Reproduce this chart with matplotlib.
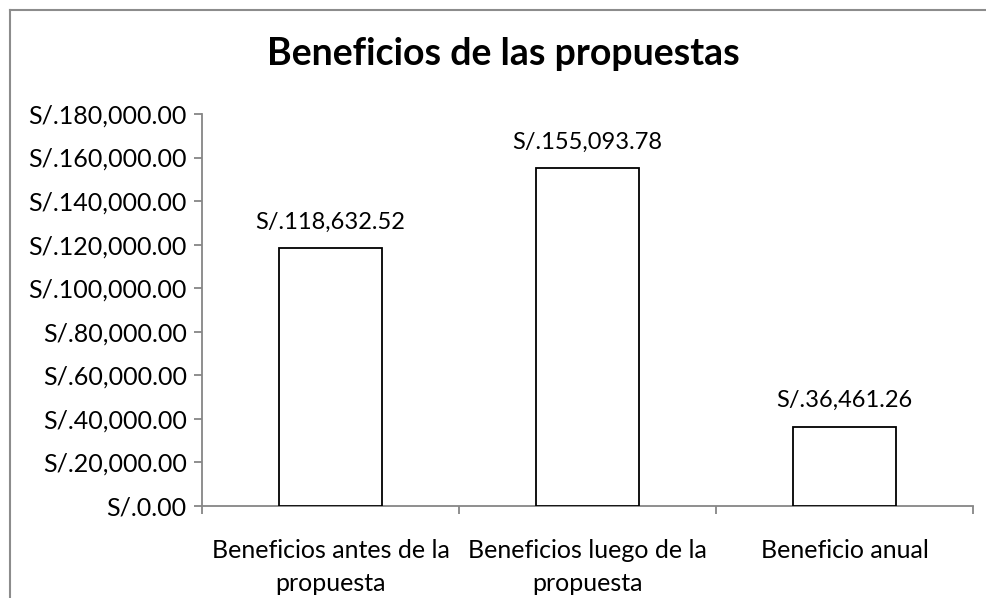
import matplotlib
matplotlib.use("Agg")
import matplotlib.pyplot as plt
from matplotlib.lines import Line2D
from matplotlib.ticker import FuncFormatter, MultipleLocator

categories = ["Beneficios antes de la\npropuesta", "Beneficios luego de la\npropuesta", "Beneficio anual"]
values = [118632.52, 155093.78, 36461.26]
title = "Beneficios de las propuestas"

plt.rcParams['font.family'] = ['Lato', 'DejaVu Sans']

W, H = 987, 598
fig = plt.figure(figsize=(W / 100, H / 100), dpi=100)
ax = fig.add_axes([202 / W, 1 - 506 / H, (973 - 202) / W, (506 - 114) / H])

def money(v):
    return "S/." + f"{v:,.2f}"

x = list(range(len(categories)))
ax.bar(x, values, width=0.4, color="white", edgecolor="black", linewidth=1.3, zorder=3)
for xi, v in zip(x, values):
    ax.annotate(money(v), (xi, v), xytext=(0, 11), textcoords="offset points",
                ha="center", va="bottom", fontsize=17, color="black")

ax.set_xlim(-0.5, len(categories) - 0.5)
ax.set_ylim(0, 180000)
ax.yaxis.set_major_locator(MultipleLocator(20000))
ax.yaxis.set_major_formatter(FuncFormatter(lambda v, p: money(v)))
ax.set_xticks(x)
ax.set_xticklabels(categories, fontsize=18, linespacing=1.5)
ax.set_xticks([-0.5, 0.5, 1.5, 2.5], minor=True)
ax.tick_params(axis="x", which="major", length=0, pad=24)
ax.tick_params(axis="x", which="minor", length=6, width=1.3, color="#868686", direction="out")
ax.tick_params(axis="y", length=6, width=1.3, color="#868686", direction="out", labelsize=18, pad=5)

for s in ["top", "right"]:
    ax.spines[s].set_visible(False)
for s in ["left", "bottom"]:
    ax.spines[s].set_color("#868686")
    ax.spines[s].set_linewidth(1.3)

fig.text(503 / W, 1 - 54 / H, title, ha="center", va="center", fontsize=27, fontweight="bold")

# outer chart-area border (top and left edges visible)
fig.add_artist(Line2D([10 / W, 1.0], [1 - 10 / H, 1 - 10 / H], color="#8c8c8c", linewidth=1.5, transform=fig.transFigure))
fig.add_artist(Line2D([10 / W, 10 / W], [1 - 10 / H, 0.0], color="#8c8c8c", linewidth=1.5, transform=fig.transFigure))

fig.savefig("out.png", dpi=100, facecolor="white")
